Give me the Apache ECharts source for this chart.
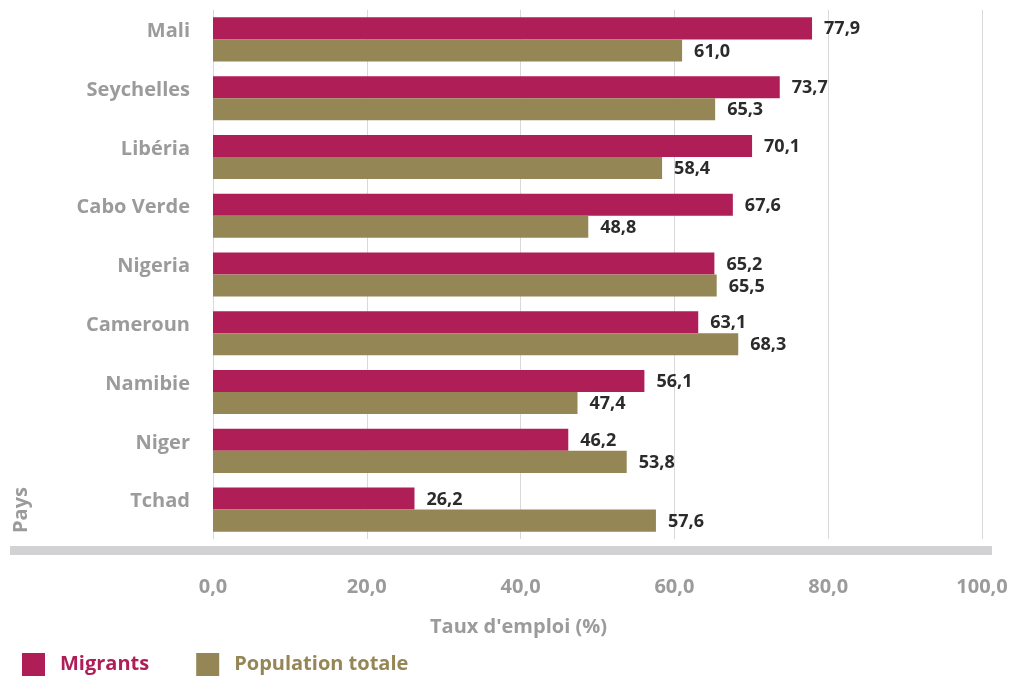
<!DOCTYPE html>
<html><head><meta charset="utf-8">
<script src="https://cdn.jsdelivr.net/npm/echarts@6/dist/echarts.min.js"></script>
<style>html,body{margin:0;padding:0;background:#fff}#c{width:1012px;height:677px}</style>
</head><body><div id="c"></div>
<script>
const categories = ["Mali","Seychelles","Libéria","Cabo Verde","Nigeria","Cameroun","Namibie","Niger","Tchad"];
const migrants = [77.9,73.7,70.1,67.6,65.2,63.1,56.1,46.2,26.2];
const populationTotale = [61.0,65.3,58.4,48.8,65.5,68.3,47.4,53.8,57.6];
const seriesNames = ["Migrants","Population totale"];
const xTicks = [0,20,40,60,80,100];

const FONT = "'Open Sans', 'Noto Sans', sans-serif";
const fmt = v => v.toFixed(1).replace('.', ',');
const chart = echarts.init(document.getElementById('c'), null, {renderer:'canvas'});
const labelStyle = {show:true, position:'right', distance:12, color:'#2b2b2b', fontFamily:FONT, fontWeight:'bold', fontSize:18, offset:[0,1], formatter:p=>fmt(p.value)};
chart.setOption({
  animation:false,
  textStyle:{fontFamily:FONT},
  grid:{left:213, right:30, top:10, bottom:138, containLabel:false},
  legend:{left:17, top:648, itemWidth:23, itemHeight:23, itemGap:47, icon:'rect',
    data:[
      {name:seriesNames[0], textStyle:{color:'#B01E58'}},
      {name:seriesNames[1], textStyle:{color:'#948655'}}
    ],
    textStyle:{fontFamily:FONT, fontWeight:'bold', fontSize:20, padding:[2,0,0,10]}},
  xAxis:{type:'value', min:xTicks[0], max:xTicks[xTicks.length-1], interval:20,
    axisLine:{show:false}, axisTick:{show:false},
    splitLine:{show:true, lineStyle:{color:'#d9d9d9', width:1}},
    axisLabel:{formatter:v=>fmt(v), color:'#9b9b9b', fontFamily:FONT, fontWeight:'bold', fontSize:20, margin:38}},
  yAxis:{type:'category', data:categories, inverse:true,
    axisLine:{show:false}, axisTick:{show:false},
    axisLabel:{color:'#9b9b9b', fontFamily:FONT, fontWeight:'bold', fontSize:20, margin:23, verticalAlign:'bottom', lineHeight:16}},
  series:[
    {name:seriesNames[0], type:'bar', data:migrants, barGap:'0%', barCategoryGap:'25%',
      itemStyle:{color:'#B01E58'}, label:labelStyle},
    {name:seriesNames[1], type:'bar', data:populationTotale, barGap:'0%', barCategoryGap:'25%',
      itemStyle:{color:'#948655'}, label:labelStyle}
  ],
  graphic:[
    {type:'rect', shape:{x:10, y:546, width:982, height:9}, style:{fill:'#d2d2d4'}, silent:true},
    {type:'text', left:430, top:617, style:{text:"Taux d'emploi (%)", fill:'#9b9b9b', font:"bold 20px "+FONT}},
    {type:'text', x:11, y:533, rotation:Math.PI/2, style:{text:'Pays', fill:'#9b9b9b', font:"bold 20px "+FONT, textAlign:'left', textVerticalAlign:'top'}}
  ]
});
</script></body></html>
